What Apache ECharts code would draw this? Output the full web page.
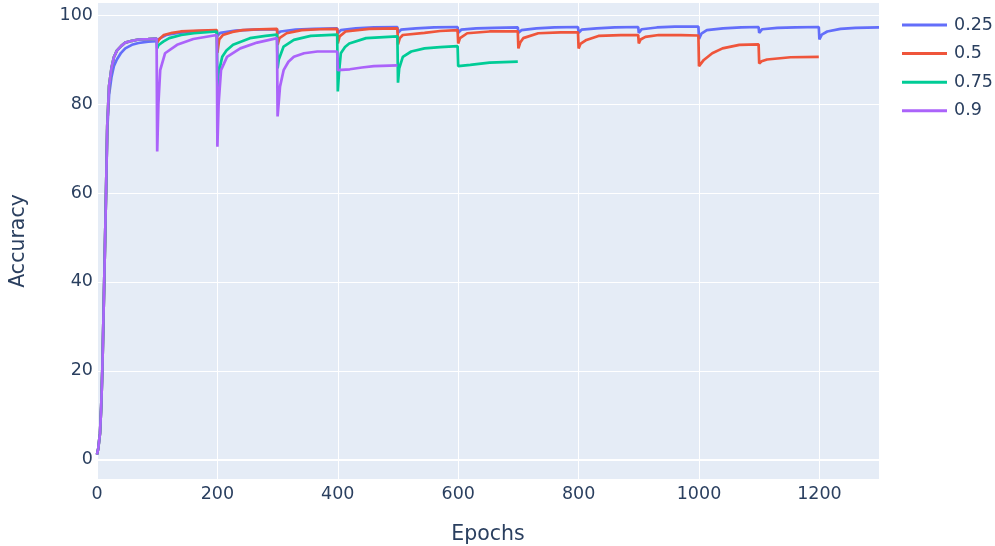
<!DOCTYPE html>
<html>
<head>
<meta charset="utf-8">
<script src="https://cdn.jsdelivr.net/npm/echarts@6.0.0/dist/echarts.min.js"></script>
<style>
  html, body { margin: 0; padding: 0; background: #fff; }
  #chart { width: 995px; height: 546px; }
</style>
</head>
<body>
<div id="chart"></div>
<script>
// tick labels
const xTicks = [0, 200, 400, 600, 800, 1000, 1200]
const yTicks = [0, 20, 40, 60, 80, 100]

// first 100 epochs, same run for 0.5 / 0.75 / 0.9
const warmup = [
  [0, 1.2], [2, 2.5], [5, 6], [7, 12], [9, 21], [12, 40], [15, 60], [17, 75], [20, 84],
  [24, 88], [28, 90.5], [33, 92], [40, 93], [47, 93.8], [58, 94.2], [69, 94.5], [85, 94.6], [99, 94.7]
]

// [epoch, accuracy]
const acc025 = [
  [0, 1.2], [2, 2.5], [5, 6], [7, 12], [9, 21], [12, 40], [15, 60], [17, 74], [20, 82],
  [24, 86], [28, 88.5], [33, 90], [40, 91.5], [47, 92.5], [58, 93.3], [69, 93.7], [85, 94], [99, 94.1],
  [100, 94.0], [105, 94.8], [115, 95.5], [135, 96.0], [160, 96.3], [199, 96.5],
  [200, 95.3], [205, 96.0], [230, 96.5], [260, 96.7], [299, 96.8],
  [300, 95.9], [305, 96.3], [330, 96.7], [360, 96.9], [399, 97.0],
  [400, 95.9], [405, 96.6], [430, 97.0], [460, 97.2], [499, 97.3],
  [500, 96.0], [505, 96.7], [530, 97.0], [560, 97.2], [599, 97.3],
  [600, 96.0], [605, 96.7], [630, 97.0], [660, 97.1], [699, 97.2],
  [700, 96.0], [705, 96.6], [730, 97.0], [760, 97.2], [799, 97.3],
  [800, 96.0], [805, 96.7], [830, 97.0], [860, 97.2], [899, 97.3],
  [900, 96.0], [905, 96.8], [930, 97.2], [960, 97.4], [999, 97.4],
  [1000, 94.6], [1004, 95.8], [1013, 96.6], [1040, 97.0], [1070, 97.2], [1099, 97.3],
  [1100, 96.0], [1105, 96.8], [1130, 97.1], [1160, 97.2], [1199, 97.3],
  [1200, 94.5], [1204, 95.6], [1213, 96.3], [1235, 96.9], [1260, 97.1], [1299, 97.2]
]

const acc05 = warmup.concat([
  [100, 93.8], [103, 94.5], [111, 95.5], [125, 96.0], [139, 96.3], [170, 96.5], [199, 96.6],
  [200, 91.5], [203, 94.5], [209, 95.5], [225, 96.2], [242, 96.6], [270, 96.8], [299, 96.9],
  [300, 93.3], [303, 94.8], [315, 95.9], [340, 96.6], [370, 96.8], [399, 96.9],
  [400, 93.6], [403, 95.2], [413, 96.3], [452, 96.9], [499, 97.0],
  [500, 93.4], [503, 94.8], [508, 95.5], [544, 96.0], [570, 96.4], [599, 96.6],
  [600, 93.6], [603, 94.8], [615, 95.9], [652, 96.3], [699, 96.3],
  [700, 92.5], [703, 93.8], [708, 94.8], [733, 95.9], [770, 96.1], [799, 96.1],
  [800, 92.5], [803, 93.5], [813, 94.4], [833, 95.3], [870, 95.5], [899, 95.5],
  [900, 93.6], [903, 94.5], [911, 95.1], [933, 95.5], [970, 95.5], [999, 95.4],
  [1000, 88.5], [1008, 89.9], [1022, 91.4], [1039, 92.5], [1067, 93.3], [1099, 93.4],
  [1100, 89.1], [1104, 89.6], [1113, 90.0], [1152, 90.5], [1199, 90.6]
])

const acc075 = warmup.concat([
  [100, 92.5], [102, 93.2], [110, 94.0], [120, 94.8], [140, 95.5], [161, 95.9], [199, 96.3],
  [200, 83.5], [202, 87], [208, 90.6], [215, 92.0], [226, 93.3], [254, 94.8], [280, 95.3], [299, 95.6],
  [300, 88], [302, 90], [310, 92.9], [327, 94.4], [355, 95.3], [399, 95.6],
  [400, 82.8], [402, 87], [405, 91.4], [412, 92.8], [419, 93.6], [447, 94.8], [499, 95.2],
  [500, 84.8], [502, 88], [508, 90.6], [522, 91.8], [544, 92.5], [570, 92.8], [599, 93.0],
  [600, 88.5], [620, 88.8], [652, 89.3], [699, 89.5]
])

const acc09 = warmup.concat([
  [100, 69.3], [102, 80], [105, 87.6], [113, 91.4], [133, 93.3], [160, 94.6], [199, 95.5],
  [200, 70.4], [202, 80], [206, 87.6], [216, 90.6], [238, 92.5], [266, 93.8], [299, 94.8],
  [300, 77.2], [304, 83.9], [310, 87.6], [318, 89.5], [327, 90.6], [344, 91.4], [366, 91.8], [399, 91.8],
  [400, 87.6], [420, 87.8], [440, 88.2], [460, 88.5], [499, 88.7]
])

const seriesNames = ['0.25', '0.5', '0.75', '0.9']
const seriesData = [acc025, acc05, acc075, acc09]
const colors = ['#636efa', '#EF553B', '#00cc96', '#ab63fa']

const textColor = '#2a3f5f'
const font = 'DejaVu Sans'

const chart = echarts.init(document.getElementById('chart'), null, { renderer: 'canvas' })

const series = seriesNames.map((name, i) => {
  const s = {
    name: name,
    type: 'line',
    symbol: 'none',
    data: seriesData[i],
    color: colors[i],
    lineStyle: { width: 2.7, color: colors[i] },
    animation: false
  }
  if (i === 0) {
    // white zero line like plotly
    s.markLine = {
      silent: true,
      symbol: ['none', 'none'],
      label: { show: false },
      z: 1,
      lineStyle: { color: '#fff', width: 2, type: 'solid' },
      data: [{ yAxis: 0 }]
    }
  }
  return s
})

const options = {
  animation: false,
  textStyle: { fontFamily: font },
  grid: {
    left: 97,
    right: 116,
    top: 3,
    bottom: 67,
    outerBoundsMode: 'none',
    containLabel: false,
    show: true,
    backgroundColor: '#e5ecf6',
    borderWidth: 0
  },
  legend: {
    orient: 'vertical',
    left: 902,
    top: 15,
    padding: 0,
    icon: 'rect',
    itemWidth: 45,
    itemHeight: 3,
    itemGap: 8.6,
    data: seriesNames,
    textStyle: { color: textColor, fontSize: 17.5, fontFamily: font, lineHeight: 20, padding: [0, 0, 0, 2] }
  },
  xAxis: {
    type: 'value',
    min: 0,
    max: 1299,
    name: 'Epochs',
    nameLocation: 'middle',
    nameGap: 45,
    nameTextStyle: { color: textColor, fontSize: 20.5, fontFamily: font },
    axisLine: { show: false },
    axisTick: { show: false, customValues: xTicks },
    axisLabel: {
      customValues: xTicks,
      formatter: v => String(v),
      color: textColor,
      fontSize: 17.5,
      fontFamily: font,
      margin: 6
    },
    splitLine: { show: true, lineStyle: { color: '#fff', width: 1 } }
  },
  yAxis: {
    type: 'value',
    min: -4.3,
    max: 102.7,
    name: 'Accuracy',
    nameLocation: 'middle',
    nameGap: 68,
    nameTextStyle: { color: textColor, fontSize: 20.5, fontFamily: font },
    axisLine: { show: false },
    axisTick: { show: false, customValues: yTicks },
    axisLabel: { customValues: yTicks, color: textColor, fontSize: 17.5, fontFamily: font, margin: 4 },
    splitLine: { show: true, lineStyle: { color: '#fff', width: 1 } }
  },
  series
}

chart.setOption(options)
</script>
</body>
</html>
